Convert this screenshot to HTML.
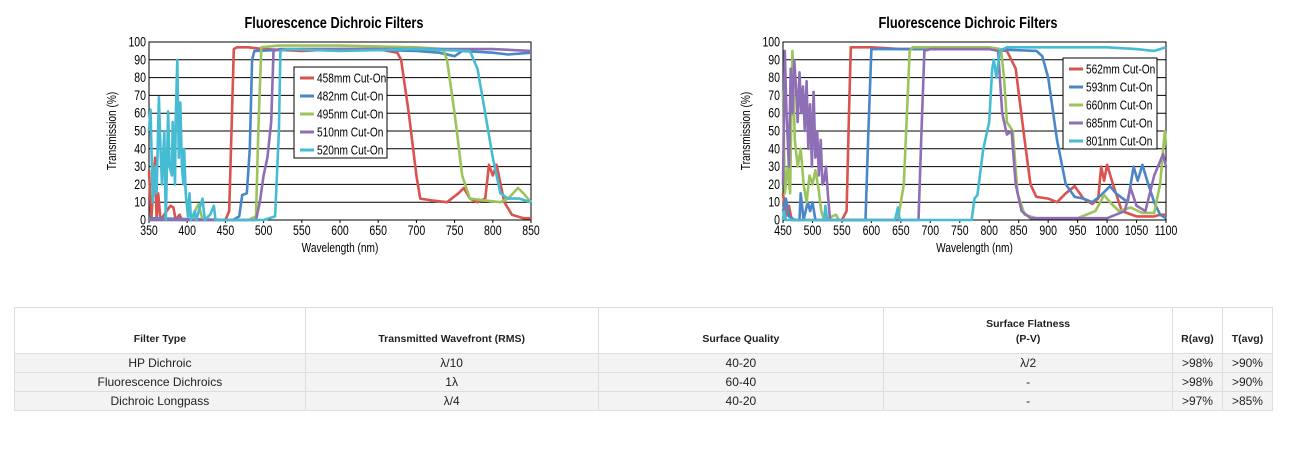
<!DOCTYPE html>
<html><head><meta charset="utf-8">
<style>
body{margin:0;background:#fff;width:1294px;height:455px;overflow:hidden;font-family:"Liberation Sans",sans-serif;position:relative}
svg{position:absolute;left:0;top:0}
table{position:absolute;left:14px;top:307px;width:1259px;border-collapse:collapse;font-size:12px;color:#222}
td,th{border:1px solid #ddd;text-align:center;padding:0;height:18px;box-sizing:border-box}
td{height:19px}
th{font-size:10.5px;font-weight:900;height:46px;vertical-align:bottom;padding-bottom:6px;background:#fff;line-height:15px}
tbody tr{background:#f3f3f3}
</style></head><body>
<svg id="charts" width="1294" height="300"></svg>
<table>
<colgroup><col style="width:291px"><col style="width:293px"><col style="width:286px"><col style="width:289px"><col style="width:50px"><col style="width:50px"></colgroup>
<thead><tr><th>Filter Type</th><th>Transmitted Wavefront (RMS)</th><th>Surface Quality</th><th>Surface Flatness<br>(P-V)</th><th>R(avg)</th><th>T(avg)</th></tr></thead>
<tbody>
<tr><td>HP Dichroic</td><td>λ/10</td><td>40-20</td><td>λ/2</td><td>&gt;98%</td><td>&gt;90%</td></tr>
<tr><td>Fluorescence Dichroics</td><td>1λ</td><td>60-40</td><td>-</td><td>&gt;98%</td><td>&gt;90%</td></tr>
<tr><td>Dichroic Longpass</td><td>λ/4</td><td>40-20</td><td>-</td><td>&gt;97%</td><td>&gt;85%</td></tr>
</tbody></table>
<script>
const leftXTicks=[350,400,450,500,550,600,650,700,750,800,850];
const rightXTicks=[450,500,550,600,650,700,750,800,850,900,950,1000,1050,1100];
const yTicks=[0,10,20,30,40,50,60,70,80,90,100];
const leftNames=["458mm Cut-On","482nm Cut-On","495nm Cut-On","510nm Cut-On","520nm Cut-On"];
const rightNames=["562mm Cut-On","593nm Cut-On","660nm Cut-On","685nm Cut-On","801nm Cut-On"];
const s458=[[350,28],[353,0],[358,35],[360,0],[362,15],[365,0],[378,8],[382,7],[385,0],[390,3],[393,0],[450,0],[455,5],[458,50],[461,96],[465,97],[480,97],[500,96],[550,95],[600,96],[650,96],[675,94],[680,90],[690,60],[700,25],[705,12],[720,11],[740,10],[755,15],[762,18],[770,12],[780,10],[790,12],[795,31],[800,25],[805,31],[815,10],[825,3],[840,1],[850,1]];
const s482=[[350,1],[460,0],[468,2],[472,14],[478,15],[482,40],[485,90],[488,95],[550,96],[600,96],[700,95],[730,94],[750,92],[760,95],[800,94],[820,93],[850,94]];
const s495=[[350,0],[408,0],[410,5],[415,9],[420,0],[480,0],[490,2],[493,50],[497,97],[520,98],[600,98],[700,97],[735,96],[740,90],[750,60],[760,25],[770,12],[790,11],[810,10],[820,12],[833,18],[840,15],[850,10]];
const s510=[[350,0],[490,0],[495,10],[500,25],[505,35],[510,55],[513,95],[520,96],[600,96],[700,96],[800,96],[850,95]];
const s520=[[350,50],[352,62],[355,10],[358,30],[360,15],[363,69],[365,40],[367,20],[370,50],[372,0],[375,61],[377,30],[380,25],[381,55],[384,20],[385,56],[387,90],[389,35],[391,66],[393,30],[395,20],[396,40],[398,15],[401,2],[403,15],[405,0],[410,5],[412,0],[415,5],[420,12],[423,0],[430,3],[435,8],[437,0],[450,0],[500,0],[515,2],[520,50],[522,95],[530,96],[600,95],[700,96],[770,95],[780,85],[790,60],[800,35],[810,15],[820,12],[835,12],[850,10]];
const s562=[[450,15],[455,2],[460,8],[465,0],[550,0],[558,5],[562,60],[565,97],[600,97],[650,96],[700,96],[800,96],[830,95],[845,85],[860,45],[870,20],[880,13],[900,12],[915,10],[930,15],[945,19],[960,12],[975,9],[985,12],[990,30],[995,22],[1000,31],[1010,20],[1025,5],[1050,2],[1080,2],[1090,3],[1100,3]];
const s593=[[450,5],[455,12],[460,2],[470,0],[478,0],[480,15],[485,0],[492,10],[496,5],[500,10],[505,0],[590,0],[595,50],[600,96],[650,96],[700,96],[800,96],[880,95],[890,92],[900,80],[915,45],[930,20],[945,13],[960,12],[975,10],[990,14],[1005,19],[1015,15],[1035,10],[1045,30],[1052,22],[1060,31],[1070,20],[1080,10],[1090,3],[1100,1]];
const s660=[[450,73],[453,15],[458,30],[462,15],[466,95],[470,45],[475,30],[480,40],[485,20],[490,10],[495,25],[500,20],[505,28],[510,18],[515,5],[520,0],[540,3],[545,0],[645,0],[655,20],[665,95],[670,97],[800,97],[820,96],[825,80],[830,55],[840,50],[848,15],[860,3],[880,1],[950,1],[980,5],[995,14],[1005,10],[1020,5],[1040,7],[1060,4],[1080,4],[1090,20],[1098,50],[1100,42]];
const s685=[[450,20],[453,95],[456,60],[460,30],[463,85],[466,60],[469,90],[472,75],[475,55],[478,83],[481,60],[484,75],[487,50],[490,78],[493,40],[496,65],[499,30],[502,72],[505,35],[508,50],[511,25],[514,45],[517,20],[520,22],[523,30],[526,15],[530,0],[680,0],[685,50],[690,95],[700,96],[800,96],[815,95],[822,60],[830,48],[838,50],[845,20],[855,5],[870,1],[1000,1],[1030,5],[1040,18],[1050,8],[1065,5],[1080,25],[1095,37],[1100,30]];
const s801=[[450,0],[452,5],[455,0],[520,0],[522,8],[525,0],[640,0],[645,7],[648,0],[770,0],[775,12],[780,14],[790,40],[800,55],[805,85],[808,90],[812,80],[818,95],[830,97],[900,97],[1000,97],[1050,96],[1080,95],[1100,97]];
const colors=["#d9534f","#4a86c8","#9bc45a","#8e6fb5","#45bcd4"];
const NS="http://www.w3.org/2000/svg";
const svg=document.getElementById('charts');
function mk(tag,attrs,parent){const e=document.createElementNS(NS,tag);for(const k in attrs)e.setAttribute(k,attrs[k]);(parent||svg).appendChild(e);return e;}
function ntext(parent,x,y,str,size,anchor,extra,sx){
  const e=mk('text',{x:0,y:0,'text-anchor':anchor,'font-size':size,transform:`translate(${x},${y}) ${extra||''} scale(${sx||0.78},1)`},parent);
  e.textContent=str;
  return e;
}
function chart(id,L,R,T,B,xmin,xmax,xticks,series,names,leg,titleX){
  const g=mk('g',{});
  
  
  const xs=v=>L+(v-xmin)/(xmax-xmin)*(R-L);
  const ys=v=>B-v/100*(B-T);
  const t=ntext(g,titleX,28,'Fluorescence Dichroic Filters','16','middle','',0.8);
  t.setAttribute('font-weight','bold');
  
  
  mk('rect',{x:L,y:T,width:R-L,height:B-T,fill:'#fff',stroke:'#000','stroke-width':1},g);
  yTicks.forEach(v=>{
    mk('line',{x1:L,x2:R,y1:ys(v),y2:ys(v),stroke:'#000','stroke-width':1},g);
    const tx=ntext(g,L-3,ys(v)+4.5,String(v),'13.5','end');
    
    
  });
  xticks.forEach(v=>{
    mk('line',{x1:xs(v),x2:xs(v),y1:B,y2:B+3,stroke:'#000'},g);
    const tx=ntext(g,xs(v),B+15,String(v),'13.5','middle');
    
    
  });
  const xl=ntext(g,(L+R)/2,B+32,'Wavelength (nm)','13','middle');
  
  
  const yl=ntext(g,L-33,(T+B)/2,'Transmission (%)','13','middle','rotate(-90)');
  
  
  series.forEach((s,i)=>{
    const p=mk('polyline',{points:s.map(d=>xs(d[0]).toFixed(1)+','+ys(d[1]).toFixed(1)).join(' '),fill:'none',stroke:colors[i],'stroke-width':2.6,'stroke-linejoin':'round'},g);
    
    
  });
  const lg=mk('g',{},g);
  
  
  mk('rect',{x:leg[0],y:leg[1],width:leg[2],height:leg[3],fill:'#fff',stroke:'#000'},lg);
  names.forEach((n,i)=>{
    const y=leg[1]+11+i*18;
    mk('line',{x1:leg[0]+6,x2:leg[0]+20,y1:y,y2:y,stroke:colors[i],'stroke-width':3},lg);
    const tx=ntext(lg,leg[0]+23,y+4.5,n,'13','start');
    
    
  });
}
chart('left-chart',149,531,42,220,350,850,leftXTicks,[s458,s482,s495,s510,s520],leftNames,[294,67,93,91],334);
chart('right-chart',783,1166,42,220,450,1100,rightXTicks,[s562,s593,s660,s685,s801],rightNames,[1063,58,94,91],968);
</script>
</body></html>
